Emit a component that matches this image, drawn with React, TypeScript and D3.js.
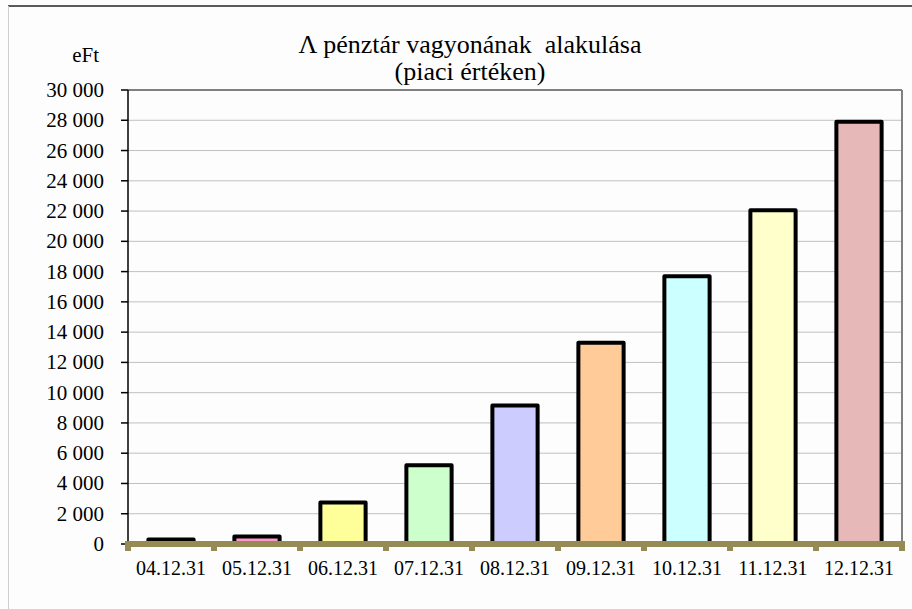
import React from "react";
import * as d3 from "d3";

// chart data (eFt)
const dates = ["04.12.31", "05.12.31", "06.12.31", "07.12.31", "08.12.31", "09.12.31", "10.12.31", "11.12.31", "12.12.31"];
const assets = [300, 500, 2750, 5200, 9150, 13300, 17700, 22050, 27900];
const barColors = ["#9999ff", "#ff99cc", "#ffff99", "#ccffcc", "#ccccff", "#ffcc99", "#ccffff", "#ffffcc", "#e6b8b8"];
const yTicks = [0, 2000, 4000, 6000, 8000, 10000, 12000, 14000, 16000, 18000, 20000, 22000, 24000, 26000, 28000, 30000];
const titleLines = ["Λ pénztár vagyonának  alakulása", "(piaci értéken)"];
const unitLabel = "eFt";

const W = 912;
const H = 609;
const plot = { left: 128, right: 902, top: 90, bottom: 544 };
const font = "'Liberation Serif', 'Times New Roman', serif";
const olive = "#978b55";

export default function App() {
  const x = d3
    .scaleBand<string>()
    .domain(dates)
    .range([plot.left, plot.right])
    .paddingInner(0.474)
    .paddingOuter(0.237);
  const y = d3.scaleLinear().domain([0, 30000]).range([plot.bottom, plot.top]);
  const fmt = (v: number) => d3.format(",")(v).replace(/,/g, " ");
  const step = x.step();
  const boundaries = d3.range(dates.length + 1).map((i) => plot.left + i * step);
  const txt = { fontFamily: font, fill: "#000" };

  return (
    <svg
      width={W}
      height={H}
      style={{ position: "absolute", left: 0, top: 0, background: "#fdfdfd", fontFamily: font }}
    >
      {/* frame of the page */}
      <line x1={8} x2={W} y1={6} y2={6} stroke="#5a5a5a" strokeWidth={2} />
      <line x1={8.5} x2={8.5} y1={6} y2={H} stroke="#d0d0d0" strokeWidth={1} />

      {/* title */}
      <text x={470} y={53} textAnchor="middle" fontSize={26} style={{ ...txt, whiteSpace: "pre" }}>
        <tspan x={470}>{titleLines[0]}</tspan>
        <tspan x={470} dy={27}>{titleLines[1]}</tspan>
      </text>
      <text x={99} y={62} textAnchor="end" fontSize={21} style={txt}>{unitLabel}</text>

      {/* gridlines */}
      {yTicks.filter((t) => t > 0 && t < 30000).map((t) => (
        <line key={t} x1={plot.left} x2={plot.right} y1={y(t)} y2={y(t)} stroke="#c0c0c0" strokeWidth={1} />
      ))}
      {/* plot border top/right */}
      <line x1={plot.left} x2={plot.right} y1={plot.top} y2={plot.top} stroke="#808080" strokeWidth={2} />
      <line x1={plot.right} x2={plot.right} y1={plot.top} y2={plot.bottom} stroke="#808080" strokeWidth={2} />

      {/* bars */}
      {assets.map((v, i) => (
        <rect
          key={dates[i]}
          x={x(dates[i])}
          y={y(v)}
          width={x.bandwidth()}
          height={y(0) - y(v)}
          fill={barColors[i]}
          stroke="#000"
          strokeWidth={4}
          strokeLinejoin="round"
        />
      ))}

      {/* y axis */}
      <line x1={plot.left} x2={plot.left} y1={plot.top} y2={plot.bottom} stroke="#000" strokeWidth={1.5} />
      {yTicks.map((t) => (
        <g key={t}>
          <line x1={121} x2={plot.left} y1={y(t)} y2={y(t)} stroke="#000" strokeWidth={1.5} />
          <text x={104} y={y(t) + 7} textAnchor="end" fontSize={21} style={txt}>{fmt(t)}</text>
        </g>
      ))}

      {/* x axis: thick olive band with square ticks */}
      <rect x={125} y={plot.bottom - 3} width={plot.right - 125 + 3} height={6} fill={olive} />
      {boundaries.map((b, i) => (
        <rect key={i} x={b - 3} y={plot.bottom} width={6} height={7} fill={olive} />
      ))}
      {dates.map((d) => (
        <text key={d} x={(x(d) ?? 0) + x.bandwidth() / 2} y={575} textAnchor="middle" fontSize={20} style={txt}>{d}</text>
      ))}
    </svg>
  );
}
